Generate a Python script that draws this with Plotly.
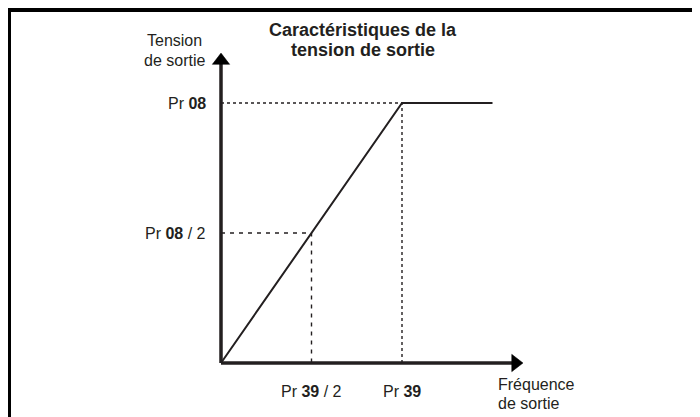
import plotly.graph_objects as go

# values, in units of Pr 39 (frequency) and Pr 08 (voltage)
freq = [0, 0.5, 1.0, 1.5]
volt = [0, 0.5, 1.0, 1.0]
half_freq, full_freq = 0.5, 1.0
half_volt, full_volt = 0.5, 1.0
x_axis_end = 1.627
y_axis_end = 1.163

y_labels = ["Pr <b>08</b>", "Pr <b>08</b> / 2"]
x_labels = ["Pr <b>39</b> / 2", "Pr <b>39</b>"]
title_lines = ["Caractéristiques de la", "tension de sortie"]
ylabel_lines = ["Tension", "de sortie"]
xlabel_lines = ["Fréquence", "de sortie"]

# the page body has an 8px margin, so the figure is drawn 8px smaller
OFF = 8
W, H = 700 - OFF, 417 - OFF
INK = "#231f20"
FONT = "Liberation Sans, Arial, sans-serif"

# pixel placement of origin and unit (figure coords)
ox, oy = 221 - OFF, 363 - OFF
ux, uy = 181, 260

fig = go.Figure()

# axes
fig.add_trace(go.Scatter(x=[0, x_axis_end], y=[0, 0], mode="lines",
                         line=dict(color=INK, width=3.5)))
fig.add_trace(go.Scatter(x=[0, 0], y=[0, y_axis_end], mode="lines",
                         line=dict(color=INK, width=3.5)))
# arrowheads
fig.add_trace(go.Scatter(x=[x_axis_end, 0], y=[0, y_axis_end], mode="markers",
                         marker=dict(symbol=["triangle-right", "triangle-up"], size=15,
                                     color="black", opacity=1,
                                     line=dict(width=0.5, color="black"))))

# guide lines
fig.add_trace(go.Scatter(x=[0, full_freq, full_freq], y=[full_volt, full_volt, 0], mode="lines",
                         line=dict(color=INK, width=1.4, dash="dot")))
fig.add_trace(go.Scatter(x=[0, half_freq, half_freq], y=[half_volt, half_volt, 0], mode="lines",
                         line=dict(color=INK, width=1.4, dash="4px,5px")))

# V/f characteristic
fig.add_trace(go.Scatter(x=freq, y=volt, mode="lines", line=dict(color=INK, width=2)))

ann = []
for lab, yv in zip(y_labels, [full_volt, half_volt]):
    ann.append(dict(x=0, y=yv, text=lab, xanchor="right", yanchor="middle", xshift=-13))
for lab, xv in zip(x_labels, [half_freq, full_freq]):
    ann.append(dict(x=xv, y=0, text=lab, xanchor="center", yanchor="middle", yshift=-28))
for i, t in enumerate(ylabel_lines):
    ann.append(dict(x=0, y=y_axis_end, text=t, xanchor="center", yanchor="middle",
                    xshift=-47, yshift=20 - 20 * i))
for i, t in enumerate(xlabel_lines):
    ann.append(dict(x=x_axis_end, y=0, text=t, xanchor="left", yanchor="middle",
                    xshift=-19, yshift=-21 - 19 * i))
for i, t in enumerate(title_lines):
    ann.append(dict(xref="paper", yref="paper", x=(363 - OFF) / W, y=1 - (30 - OFF + 20 * i) / H,
                    text="<b>" + t + "</b>", xanchor="center", yanchor="middle",
                    font=dict(size=18)))
for a in ann:
    a.setdefault("showarrow", False)
    a.setdefault("font", dict(size=16))
    a["font"] = dict(family=FONT, color=INK, **a["font"])

# frame: thick black bars on top and left
shapes = [
    dict(type="rect", xref="paper", yref="paper", x0=0, x1=1, y0=1 - 4 / H, y1=1,
         fillcolor="black", line_width=0),
    dict(type="rect", xref="paper", yref="paper", x0=0, x1=3 / W, y0=0, y1=1,
         fillcolor="black", line_width=0),
]

fig.update_layout(
    width=W, height=H, margin=dict(l=0, r=0, t=0, b=0),
    paper_bgcolor="white", plot_bgcolor="white", showlegend=False,
    xaxis=dict(range=[-ox / ux, (W - ox) / ux], visible=False, fixedrange=True),
    yaxis=dict(range=[-(H - oy) / uy, oy / uy], visible=False, fixedrange=True),
    annotations=ann, shapes=shapes,
)

fig.write_html("out.html")
